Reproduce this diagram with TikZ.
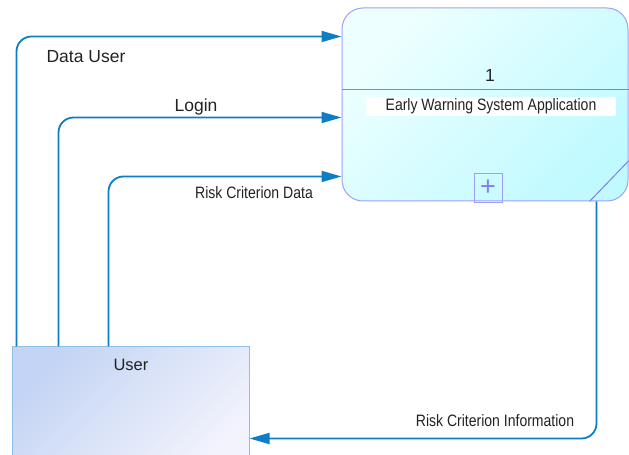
\documentclass[tikz,border=0pt]{standalone}
\usepackage{fontspec}
\setmainfont{Liberation Sans}
\newfontfamily\narrowfont{Liberation Sans}[FakeStretch=0.85]
\usetikzlibrary{arrows.meta}
\definecolor{flowblue}{RGB}{14,126,196}
\definecolor{procline}{RGB}{160,160,250}
\definecolor{procdiv}{RGB}{128,128,240}
\definecolor{proctop}{RGB}{238,255,255}
\definecolor{procbot}{RGB}{192,250,255}
\definecolor{userline}{RGB}{140,192,230}
\definecolor{usertop}{RGB}{196,212,244}
\definecolor{userbot}{RGB}{242,243,252}
\definecolor{txtgrey}{RGB}{34,34,34}
\tikzstyle{procbox}=[rectangle,rounded corners=21pt,draw=procline,line width=1pt,
                     top color=proctop,bottom color=procbot,shading angle=45]
\tikzstyle{userbox}=[rectangle,draw=userline,line width=1pt,
                     top color=usertop,bottom color=userbot,shading angle=45]
\tikzstyle{plusbox}=[rectangle,draw=procline,line width=0.8pt,text=procdiv,
                     inner sep=0pt,font=\fontsize{27}{27}\selectfont]
\tikzstyle{flow}=[draw=flowblue,line width=1.8pt,rounded corners=15pt,
                  -{Triangle[length=20pt,width=11pt]}]
\tikzstyle{biglbl}=[text=txtgrey,inner sep=0pt,font=\fontsize{17.5}{20}\selectfont]
\tikzstyle{smalllbl}=[text=txtgrey,inner sep=0pt,
                      font=\narrowfont\fontsize{16.5}{19}\selectfont]

\begin{document}
\begin{tikzpicture}[x=1pt,y=1pt]
    \useasboundingbox (0,0) rectangle (629,455);
    \clip (0,0) rectangle (629,455);
    % process
    \node (proc) at (485,350.5) [procbox,minimum width=286pt,minimum height=193pt]{};
    \draw[procdiv,line width=1pt] ([yshift=-82pt]proc.north west) -- ([yshift=-82pt]proc.north east);
    \draw[procdiv,line width=1pt] ([xshift=-39pt]proc.south east) -- ++(51,53);
    \node (procid) at (490,380) [biglbl]{1};
    \node (proctitle) at (491,348.5) [smalllbl,fill=white,minimum width=250pt,minimum height=19pt]
        {Early Warning System Application};
    \node (procplus) at (488,267.5) [plusbox,minimum width=28pt,minimum height=29pt]{+};
    % external entity
    \node (user) at (130.5,46.5) [userbox,minimum width=237pt,minimum height=123pt]{};
    \node (userlbl) at (131,90.5) [biglbl,font=\fontsize{16.5}{19}\selectfont]{User};
    % flows
    \draw[flow] ([xshift=5pt]user.north west) |- ([yshift=-29pt]proc.north west);
    \draw[flow] ([xshift=47pt]user.north west) |- ([yshift=-110pt]proc.north west);
    \draw[flow] ([xshift=97pt]user.north west) |- ([yshift=-169pt]proc.north west);
    \draw[flow] ([xshift=-32pt]proc.south east) |- ([yshift=32pt]user.south east);
    \node (datauser) at (86,398) [biglbl]{Data User};
    \node (login) at (196,348) [biglbl]{Login};
    \node (riskdata) at (254,262) [smalllbl]{Risk Criterion Data};
    \node (riskinfo) at (495,34) [smalllbl]{Risk Criterion Information};
\end{tikzpicture}
\end{document}
